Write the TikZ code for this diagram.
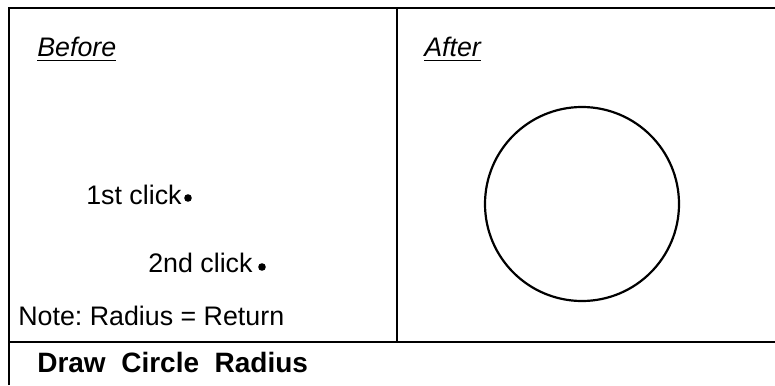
\documentclass[tikz,border=0pt]{standalone}
\usepackage{fontspec}
\setmainfont{Liberation Sans}
\usetikzlibrary{positioning}
\frenchspacing
\begin{document}
\begin{tikzpicture}[x=0.5pt,y=-0.5pt,line width=1.3pt,
  every node/.style={font=\fontsize{13.4}{15}\selectfont,inner sep=0pt},
  heading/.style={anchor=base west,font=\fontsize{13.4}{15}\selectfont\itshape},
  label/.style={anchor=base west}]
\useasboundingbox (0,0) rectangle (775,385);
% frame
\coordinate (tl) at (9,8);
\coordinate (tr) at (775,8);
\coordinate (bl) at (9,385);
\coordinate (ml) at (9,342);
\coordinate (mr) at (775,342);
\coordinate (dt) at (397,8);
\coordinate (db) at (397,342);
\draw (bl)--(tl)--(tr);
\draw (ml)--(mr);
\draw (dt)--(db);
% before panel
\node[heading] (before) at (36,57) {\underline{Before}};
\node[label] (click1) at (85,204) {1st click};
\node[label] (click2) at (147,272) {2nd click};
\coordinate (p1) at (188,198);
\coordinate (p2) at (262,267);
\fill (p1) circle (3.8);
\fill (p2) circle (3.8);
\node[label] (note) at (17,325) {Note: Radius = Return};
% after panel
\node[heading] (after) at (423,57) {\underline{After}};
\coordinate (c) at (582,204);
\draw[line width=1.1pt] (c) circle (97);
% command name
\node[label,font=\fontsize{14}{16}\selectfont\bfseries] (cmd) at (36,372) {Draw~~Circle~~Radius};
\end{tikzpicture}
\end{document}
